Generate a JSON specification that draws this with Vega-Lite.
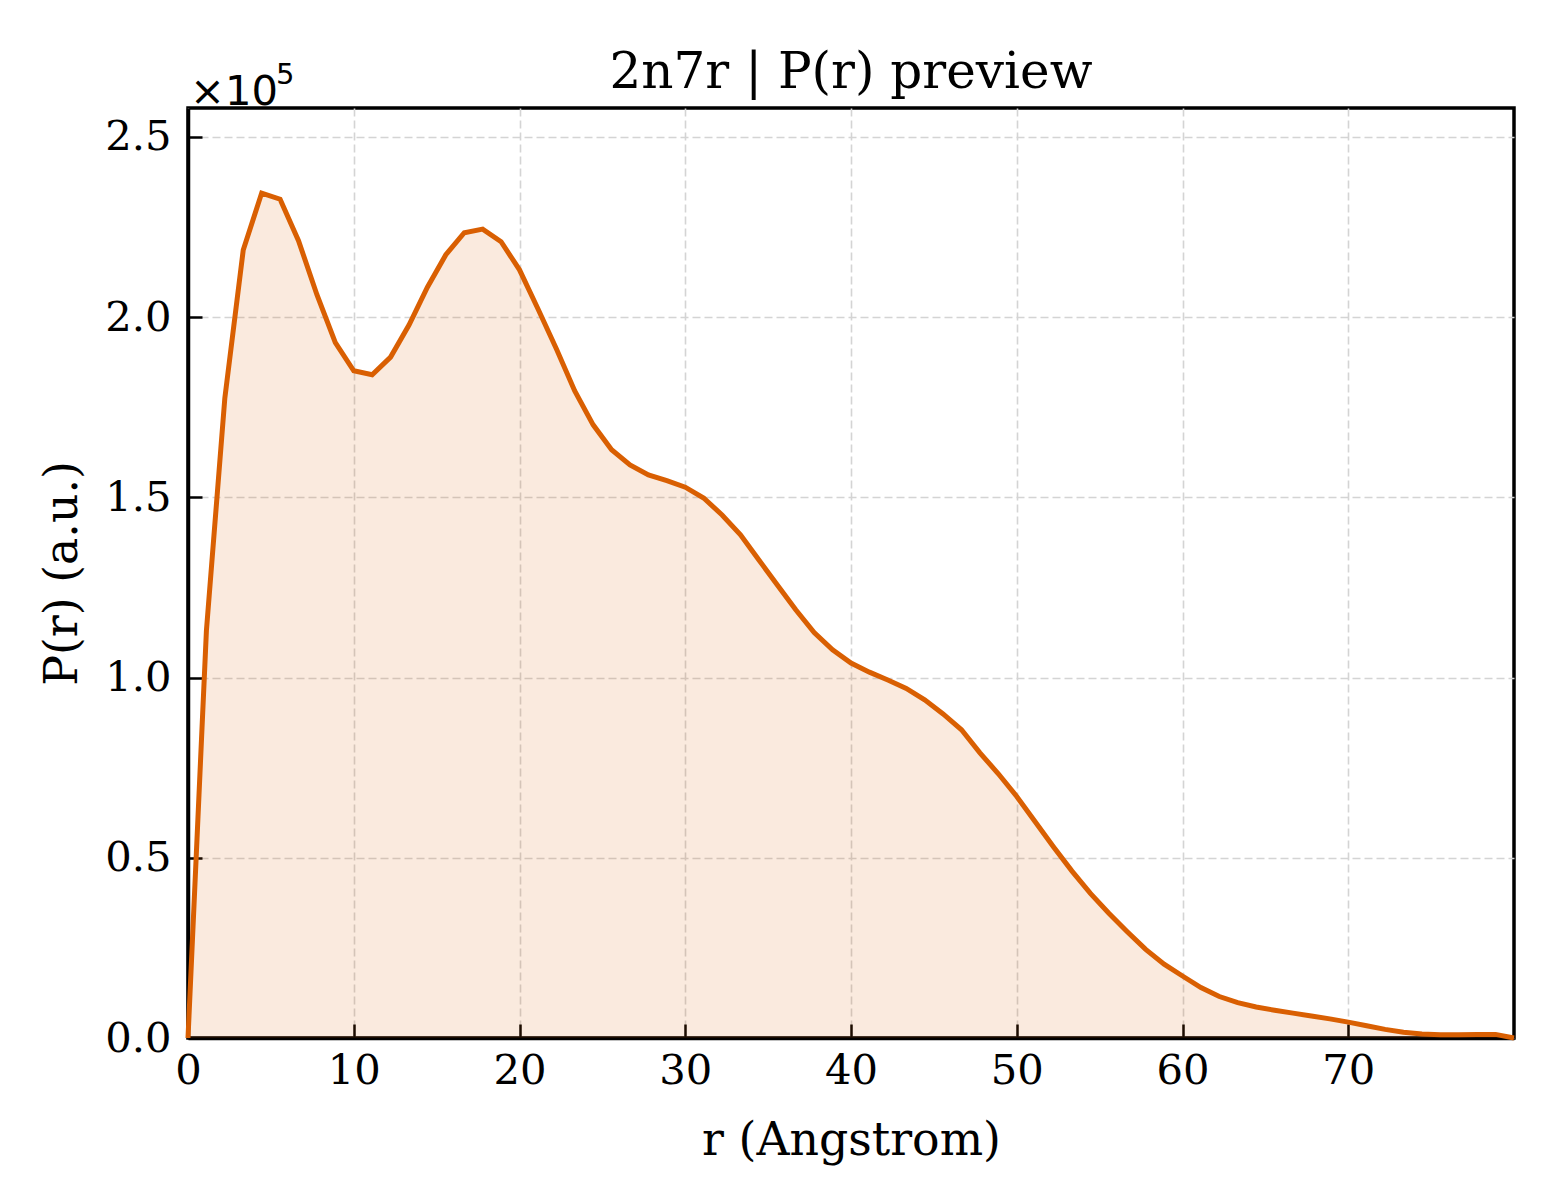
{
  "$schema": "https://vega.github.io/schema/vega-lite/v6.json",
  "width": 1326,
  "height": 930,
  "autosize": {"type": "none"},
  "padding": {"left": 188, "top": 108, "right": 46, "bottom": 162},
  "background": "white",
  "title": {
    "text": "2n7r | P(r) preview",
    "font": "DejaVu Serif",
    "fontSize": 50,
    "fontWeight": "normal",
    "color": "black",
    "anchor": "middle",
    "baseline": "alphabetic",
    "offset": 22,
    "dy": 99
  },
  "config": {
    "font": "DejaVu Serif",
    "view": {"stroke": "black", "strokeWidth": 3.5},
    "axis": {
      "labelFont": "DejaVu Serif",
      "labelFontSize": 41.7,
      "labelColor": "black",
      "labelFlush": false,
      "titleFont": "DejaVu Serif",
      "titleFontSize": 45.8,
      "titleFontWeight": "normal",
      "titleColor": "black",
      "domainColor": "black",
      "domainWidth": 3.5,
      "tickColor": "black",
      "tickWidth": 2.5,
      "tickSize": -14,
      "gridColor": "#d4d4d4",
      "gridWidth": 1.6,
      "gridDash": [8, 4]
    }
  },
  "data": {
    "values": [
      {"r": 0.0, "P": 0},
      {"r": 1.111, "P": 113000},
      {"r": 2.222, "P": 177500},
      {"r": 3.333, "P": 218600},
      {"r": 4.444, "P": 234400},
      {"r": 5.556, "P": 232700},
      {"r": 6.667, "P": 221200},
      {"r": 7.778, "P": 206200},
      {"r": 8.889, "P": 192900},
      {"r": 10.0, "P": 185100},
      {"r": 11.111, "P": 184000},
      {"r": 12.222, "P": 188900},
      {"r": 13.333, "P": 197800},
      {"r": 14.444, "P": 208300},
      {"r": 15.556, "P": 217300},
      {"r": 16.667, "P": 223400},
      {"r": 17.778, "P": 224400},
      {"r": 18.889, "P": 220900},
      {"r": 20.0, "P": 213100},
      {"r": 21.111, "P": 202300},
      {"r": 22.222, "P": 191200},
      {"r": 23.333, "P": 179500},
      {"r": 24.444, "P": 170100},
      {"r": 25.556, "P": 163200},
      {"r": 26.667, "P": 159000},
      {"r": 27.778, "P": 156200},
      {"r": 28.889, "P": 154600},
      {"r": 30.0, "P": 152800},
      {"r": 31.111, "P": 149800},
      {"r": 32.222, "P": 145100},
      {"r": 33.333, "P": 139600},
      {"r": 34.444, "P": 132600},
      {"r": 35.556, "P": 125700},
      {"r": 36.667, "P": 118800},
      {"r": 37.778, "P": 112500},
      {"r": 38.889, "P": 107700},
      {"r": 40.0, "P": 104000},
      {"r": 41.111, "P": 101500},
      {"r": 42.222, "P": 99300},
      {"r": 43.333, "P": 97000},
      {"r": 44.444, "P": 93800},
      {"r": 45.556, "P": 89900},
      {"r": 46.667, "P": 85500},
      {"r": 47.778, "P": 79100},
      {"r": 48.889, "P": 73300},
      {"r": 50.0, "P": 67000},
      {"r": 51.111, "P": 60000},
      {"r": 52.222, "P": 53000},
      {"r": 53.333, "P": 46300},
      {"r": 54.444, "P": 40100},
      {"r": 55.556, "P": 34600},
      {"r": 56.667, "P": 29500},
      {"r": 57.778, "P": 24600},
      {"r": 58.889, "P": 20500},
      {"r": 60.0, "P": 17200},
      {"r": 61.111, "P": 14000},
      {"r": 62.222, "P": 11500},
      {"r": 63.333, "P": 9800},
      {"r": 64.444, "P": 8600},
      {"r": 65.556, "P": 7700},
      {"r": 66.667, "P": 6900},
      {"r": 67.778, "P": 6100},
      {"r": 68.889, "P": 5300},
      {"r": 70.0, "P": 4400},
      {"r": 71.111, "P": 3400},
      {"r": 72.222, "P": 2400},
      {"r": 73.333, "P": 1600},
      {"r": 74.444, "P": 1100},
      {"r": 75.556, "P": 900},
      {"r": 76.667, "P": 900},
      {"r": 77.778, "P": 1000},
      {"r": 78.889, "P": 1000},
      {"r": 80.0, "P": 0}
    ]
  },
  "encoding": {
    "x": {
      "field": "r",
      "type": "quantitative",
      "scale": {"domain": [0, 80], "nice": false, "zero": false},
      "axis": {
        "title": "r (Angstrom)",
        "values": [0, 10, 20, 30, 40, 50, 60, 70],
        "labelPadding": 26,
        "titlePadding": 27
      }
    },
    "y": {
      "field": "P",
      "type": "quantitative",
      "scale": {"domain": [0, 258000], "nice": false},
      "axis": {
        "title": "P(r) (a.u.)",
        "values": [0, 50000, 100000, 150000, 200000, 250000],
        "labelExpr": "format(datum.value / 100000, '.1f')",
        "labelPadding": 31,
        "titlePadding": 18
      }
    }
  },
  "layer": [
    {
      "mark": {"type": "area", "color": "#d95f02", "fillOpacity": 0.13}
    },
    {
      "mark": {"type": "line", "color": "#d95f02", "strokeWidth": 5}
    },
    {
      "transform": [{"filter": "datum.r == 0"}],
      "mark": {
        "type": "text",
        "text": "×10",
        "font": "DejaVu Sans",
        "fontSize": 41.7,
        "align": "left",
        "baseline": "alphabetic",
        "dx": 2,
        "dy": -3,
        "color": "black"
      },
      "encoding": {
        "x": {"datum": 0, "type": "quantitative"},
        "y": {"datum": 258000, "type": "quantitative"}
      }
    },
    {
      "transform": [{"filter": "datum.r == 0"}],
      "mark": {
        "type": "text",
        "text": "5",
        "font": "DejaVu Sans",
        "fontSize": 29,
        "align": "left",
        "baseline": "alphabetic",
        "dx": 88,
        "dy": -24,
        "color": "black"
      },
      "encoding": {
        "x": {"datum": 0, "type": "quantitative"},
        "y": {"datum": 258000, "type": "quantitative"}
      }
    }
  ]
}
